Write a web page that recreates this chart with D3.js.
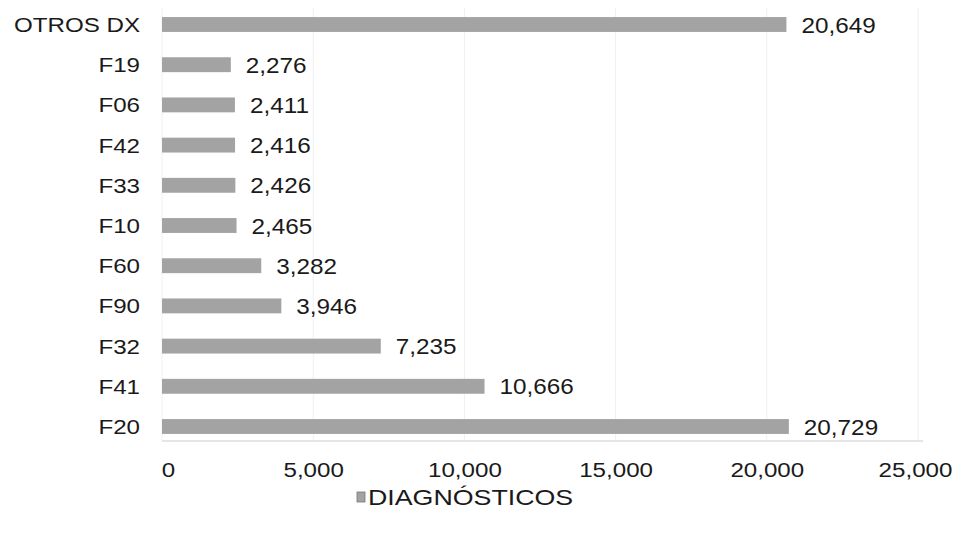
<!DOCTYPE html>
<html><head><meta charset="utf-8">
<script src="https://cdn.jsdelivr.net/npm/d3@7"></script>
<style>body{margin:0;background:#fff}svg{display:block}text{font-family:"Liberation Sans",Arial,sans-serif;fill:#1a1a1a}</style>
</head><body>
<script>
const categories = ["OTROS DX","F19","F06","F42","F33","F10","F60","F90","F32","F41","F20"];
const values = [20649,2276,2411,2416,2426,2465,3282,3946,7235,10666,20729];
const tickValues = [0,5000,10000,15000,20000,25000];
const seriesName = "DIAGNÓSTICOS";

const W=959,H=535;
const svg=d3.select("body").append("svg").attr("width",W).attr("height",H);
const x=d3.scaleLinear().domain([0,25000]).range([162,918]);
const y=d3.scaleBand().domain(categories).range([5,446]).paddingInner(0.63).paddingOuter(0.3);
const fmt=d3.format(",");
const SX=1.15;

// faint gridlines
svg.append("g").selectAll("line").data(tickValues).join("line")
  .attr("x1",d=>x(d)).attr("x2",d=>x(d)).attr("y1",8).attr("y2",441)
  .attr("stroke","#f0f0f0").attr("stroke-width",1);
// faint baseline
svg.append("line").attr("x1",x(0)).attr("x2",x(25000)+5).attr("y1",441).attr("y2",441)
  .attr("stroke","#dcdcdc").attr("stroke-width",1.5);

svg.append("g").selectAll("rect").data(categories).join("rect")
  .attr("x",x(0)).attr("y",d=>y(d)).attr("height",y.bandwidth())
  .attr("width",(d,i)=>x(values[i])-x(0)).attr("fill","#a3a3a3");

svg.append("g").selectAll("text").data(categories).join("text")
  .attr("transform",d=>`translate(140,${y(d)+y.bandwidth()/2}) scale(${SX},1)`)
  .attr("dy","0.36em").attr("text-anchor","end").attr("font-size",21).text(d=>d);

svg.append("g").selectAll("text").data(categories).join("text")
  .attr("transform",(d,i)=>`translate(${x(values[i])+15},${y(d)+y.bandwidth()/2}) scale(1.08,1)`)
  .attr("dy","0.36em").attr("font-size",22.5).text((d,i)=>fmt(values[i]));

const axis=d3.axisBottom(x).tickValues(tickValues).tickFormat(fmt).tickSize(0).tickPadding(0);
const ag=svg.append("g").attr("transform","translate(0,462)").call(axis);
ag.select(".domain").remove();
ag.attr("font-family",null);
ag.selectAll("text").attr("font-size",21).attr("dy","0.71em").attr("transform",`scale(${SX},1)`);
ag.selectAll(".tick").filter(d=>d===0).select("text").attr("x",6/SX);
ag.selectAll(".tick").filter(d=>d===25000).select("text").attr("x",-3/SX);

const lg=svg.append("g");
lg.append("rect").attr("x",357).attr("y",492).attr("width",8).attr("height",10).attr("fill","#a3a3a3").attr("stroke","#777").attr("stroke-width",0.8);
lg.append("text").attr("transform",`translate(368,497) scale(1.19,1)`).attr("dy","0.36em").attr("font-size",22.5).text(seriesName);
</script>
</body></html>
